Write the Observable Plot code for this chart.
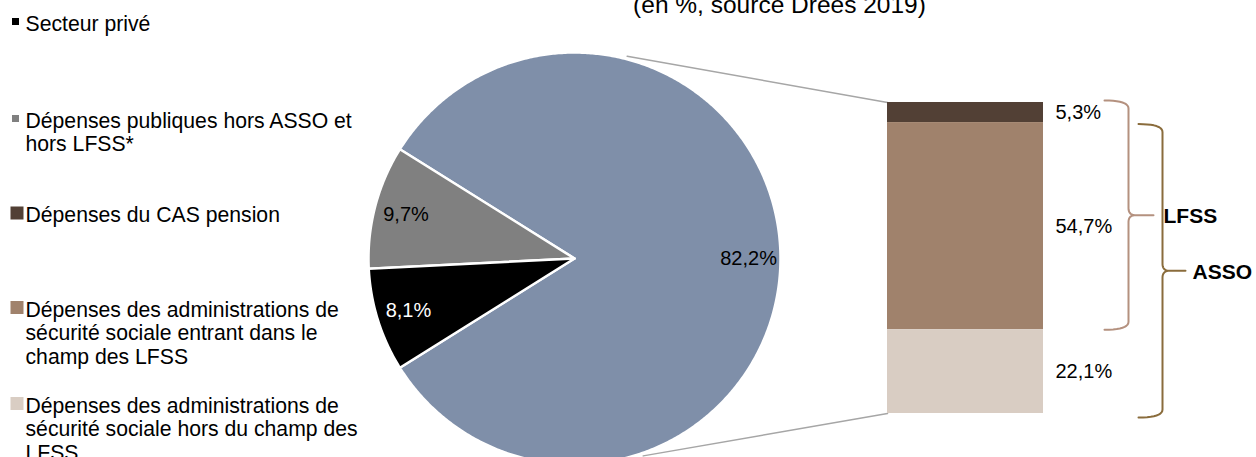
<!DOCTYPE html>
<html><head><meta charset="utf-8">
<script src="https://cdn.jsdelivr.net/npm/d3@7"></script>
<script src="https://cdn.jsdelivr.net/npm/@observablehq/plot@0.6"></script>
<style>html,body{margin:0;padding:0;background:#fff;overflow:hidden}</style>
</head><body><div id="chart"></div>
<script>
// ---------- data ----------
const titleText = "(en %, source Drees 2019)";
const pieCategories = ["Dépenses des ASSO et du CAS pension", "Dépenses publiques hors ASSO et hors LFSS*", "Secteur privé"];
const pieValues = [82.2, 9.7, 8.1];
const barCategories = ["Dépenses du CAS pension", "Dépenses des administrations de sécurité sociale entrant dans le champ des LFSS", "Dépenses des administrations de sécurité sociale hors du champ des LFSS"];
const barValues = [5.3, 54.7, 22.1];
const legendCategories = [
  "Secteur privé",
  "Dépenses publiques hors ASSO et\nhors LFSS*",
  "Dépenses du CAS pension",
  "Dépenses des administrations de\nsécurité sociale entrant dans le\nchamp des LFSS",
  "Dépenses des administrations de\nsécurité sociale hors du champ des\nLFSS"
];
const braceLabels = ["LFSS", "ASSO"];
const braceSegments = [[0, 1], [1, 2]]; // first and last bar segment covered

// ---------- styles ----------
const pieColors = ["#7f8fa9", "#808080", "#000000"];
const pieLabelColors = ["#000000", "#000000", "#ffffff"];
const barColors = ["#524035", "#a0826c", "#d9cdc3"];
const legendColors = ["#000000", "#808080", "#524035", "#a0826c", "#d9cdc3"];
const braceColors = ["#b4917f", "#8a6c3c"];
const FONT = "'Liberation Sans', Arial, sans-serif";

// ---------- layout ----------
const W = 1256, H = 457;
const cx = 574, cy = 258, R = 206;
const barX1 = 887, barX2 = 1043, barTop = 102, barBottom = 413;
const legendX = 25, legendBaselines = [28.5, 125.5, 220, 314.5, 410.5];
const swatchSizes = [7, 7, 13, 13, 13], swatchGaps = [6, 6, 1.5, 1.5, 1.5];
const legendFont = 21.2, legendLine = 23.5, valueFont = 20, titleFont = 24.5;

const fmt = v => v.toFixed(1).replace(".", ",") + "%";
const rad = d => d * Math.PI / 180;
const pt = (a, r) => ({x: cx + r * Math.cos(rad(a)), y: cy - r * Math.sin(rad(a))});

// pie slices (first slice centred on the right)
const pieTotal = d3.sum(pieValues);
let ang = -pieValues[0] / pieTotal * 180;
const slicePts = [], pieLabelData = [];
pieValues.forEach((v, i) => {
  const a0 = ang, a1 = ang + v / pieTotal * 360;
  ang = a1;
  slicePts.push({k: i, ...pt(0, 0), fill: pieColors[i]});
  const n = Math.max(2, Math.ceil((a1 - a0) / 0.5));
  for (let j = 0; j <= n; j++) slicePts.push({k: i, ...pt(a0 + (a1 - a0) * j / n, R), fill: pieColors[i]});
  slicePts.push({k: i, ...pt(0, 0), fill: pieColors[i]});
  pieLabelData.push({...pt((a0 + a1) / 2, R * 0.845), text: fmt(v), fill: pieLabelColors[i]});
});

// bar of the "other" slice
const k = (barBottom - barTop) / d3.sum(barValues);
let acc = barTop;
const barData = barValues.map((v, i) => {
  const y1 = acc, y2 = acc + v * k; acc = y2;
  return {y1, y2, fill: barColors[i], text: fmt(v), ym: (y1 + y2) / 2, cat: barCategories[i]};
});

// connector lines between pie and bar
const connectors = [
  {k: 0, ...pt(75.4, R + 3)}, {k: 0, x: barX1, y: barTop},
  {k: 1, ...pt(-70.8, R + 3)}, {k: 1, x: barX1, y: barBottom}
];

// braces
function quad(p0, c, p1, n = 10) {
  const out = [];
  for (let j = 0; j <= n; j++) {
    const t = j / n, u = 1 - t;
    out.push({x: u*u*p0.x + 2*u*t*c.x + t*t*p1.x, y: u*u*p0.y + 2*u*t*c.y + t*t*p1.y});
  }
  return out;
}
function brace(yTop, yBot, xEnd, xV, xTip) {
  const yMid = (yTop + yBot) / 2;
  return [
    ...quad({x: xEnd, y: yTop}, {x: xV, y: yTop}, {x: xV, y: yTop + 8}),
    ...quad({x: xV, y: yMid - 7}, {x: xV, y: yMid}, {x: xV + 7, y: yMid}),
    {x: xTip, y: yMid},
    ...quad({x: xV + 7, y: yMid}, {x: xV, y: yMid}, {x: xV, y: yMid + 7}),
    ...quad({x: xV, y: yBot - 8}, {x: xV, y: yBot}, {x: xEnd, y: yBot})
  ];
}
const braceGeom = [
  {dTop: -2, dBot: 0, xEnd: 1104, xV: 1128, xTip: 1153, labelX: 1163},
  {dTop: 1.5, dBot: 4, xEnd: 1138, xV: 1162, xTip: 1185, labelX: 1192}
];
const bracePts = [], braceText = [];
braceSegments.forEach(([s0, s1], i) => {
  const g = braceGeom[i];
  const yTop = barData[s0].y1 + g.dTop, yBot = barData[s1].y2 + g.dBot;
  brace(yTop, yBot, g.xEnd, g.xV, g.xTip).forEach(p => bracePts.push({k: i, ...p, stroke: braceColors[i]}));
  braceText.push({x: g.labelX, y: (yTop + yBot) / 2 + 1.5, text: braceLabels[i]});
});

// legend
const legendText = legendCategories.map((t, i) => ({x: legendX, y: legendBaselines[i] - 0.71 * legendFont, text: t}));
const legendSw = legendCategories.map((t, i) => {
  const s = swatchSizes[i], c = legendBaselines[i] - 7, x2 = legendX - swatchGaps[i];
  return {x1: x2 - s, x2, y1: c - s / 2, y2: c + s / 2, fill: legendColors[i]};
});

const chart = Plot.plot({
  width: W, height: H, margin: 0,
  x: {domain: [0, W], range: [0, W], axis: null},
  y: {domain: [0, H], range: [0, H], axis: null},
  color: {type: "identity"},
  style: {fontFamily: FONT, background: "#fff"},
  marks: [
    Plot.text([{x: 779, y: 12 - 0.71 * titleFont, text: titleText}], {x: "x", y: "y", text: "text", lineAnchor: "top", fontSize: titleFont, fill: "#000"}),
    Plot.line(slicePts, {x: "x", y: "y", z: "k", fill: "fill", stroke: "#fff", strokeWidth: 2.5, curve: "linear", strokeLinejoin: "round"}),
    Plot.text(pieLabelData, {x: "x", y: "y", text: "text", fill: "fill", fontSize: valueFont}),
    Plot.line(connectors, {x: "x", y: "y", z: "k", stroke: "#a6a6a6", strokeWidth: 1.5}),
    Plot.rect(barData, {x1: barX1, x2: barX2, y1: "y1", y2: "y2", fill: "fill"}),
    Plot.text(barData, {x: 1055, y: "ym", text: "text", textAnchor: "start", fontSize: valueFont, fill: "#000"}),
    Plot.line(bracePts, {x: "x", y: "y", z: "k", stroke: "stroke", strokeWidth: 2, curve: "linear"}),
    Plot.text(braceText, {x: "x", y: "y", text: "text", textAnchor: "start", fontSize: 21, fontWeight: "bold", fill: "#000"}),
    Plot.rect(legendSw, {x1: "x1", x2: "x2", y1: "y1", y2: "y2", fill: "fill"}),
    Plot.text(legendText, {x: "x", y: "y", text: "text", textAnchor: "start", lineAnchor: "top", lineHeight: legendLine / legendFont, fontSize: legendFont, fill: "#000"})
  ]
});
document.getElementById("chart").append(chart);
</script>
</body></html>
